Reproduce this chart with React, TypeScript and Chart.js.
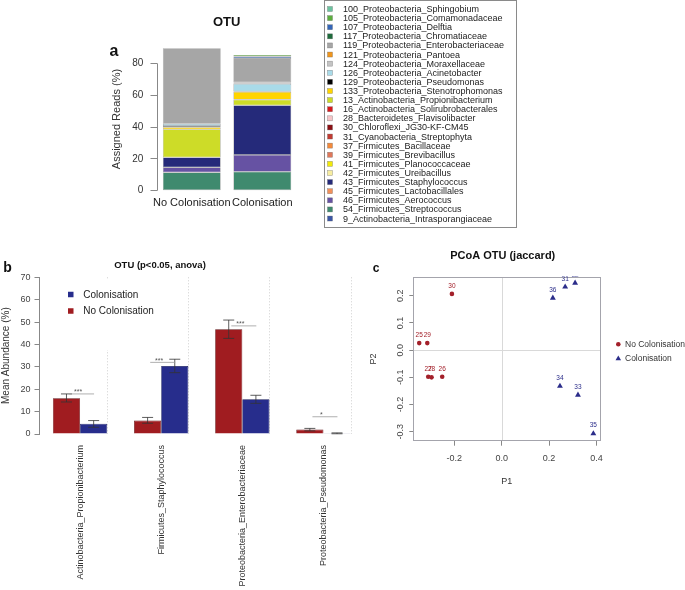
import React, { useEffect, useRef } from 'react';
import { Chart, registerables } from 'chart.js';

Chart.register(...registerables);

const FONT = "'Liberation Sans', Arial, Helvetica, sans-serif";

// ---------- Panel a: stacked OTU composition ----------
const otuGroups = ['No Colonisation', 'Colonisation'];
const otuNames = [
  '100_Proteobacteria_Sphingobium',
  '105_Proteobacteria_Comamonadaceae',
  '107_Proteobacteria_Delftia',
  '117_Proteobacteria_Chromatiaceae',
  '119_Proteobacteria_Enterobacteriaceae',
  '121_Proteobacteria_Pantoea',
  '124_Proteobacteria_Moraxellaceae',
  '126_Proteobacteria_Acinetobacter',
  '129_Proteobacteria_Pseudomonas',
  '133_Proteobacteria_Stenotrophomonas',
  '13_Actinobacteria_Propionibacterium',
  '16_Actinobacteria_Solirubrobacterales',
  '28_Bacteroidetes_Flavisolibacter',
  '30_Chloroflexi_JG30-KF-CM45',
  '31_Cyanobacteria_Streptophyta',
  '37_Firmicutes_Bacillaceae',
  '39_Firmicutes_Brevibacillus',
  '41_Firmicutes_Planococcaceae',
  '42_Firmicutes_Ureibacillus',
  '43_Firmicutes_Staphylococcus',
  '45_Firmicutes_Lactobacillales',
  '46_Firmicutes_Aerococcus',
  '54_Firmicutes_Streptococcus',
  '9_Actinobacteria_Intrasporangiaceae',
];
const otuColors = [
  '#6cc3a0', '#5cae3e', '#3466b8', '#1e6b3c', '#a6a6a6', '#f0961e',
  '#c4c4c4', '#a9dbe9', '#000000', '#ffd400', '#cddc28', '#d7191c',
  '#f6c5c8', '#8b0f14', '#c23b32', '#f48a3c', '#e0785a', '#f2ea0a',
  '#f7eda0', '#252a7a', '#f2905a', '#6652a3', '#3f8a6e', '#3b56a6',
];
const otuNoColonisation = [
  0, 0, 0, 0, 47.5, 0, 0, 1.3, 0.8, 1.3, 17.7, 0,
  0, 0, 0, 0, 0, 0, 0, 6.2, 0, 3.2, 11.5, 0,
];
const otuColonisation = [
  0, 1.0, 1.0, 0, 15.3, 0, 0.9, 4.8, 0.3, 4.8, 3.6, 0,
  0, 0, 0, 0, 0, 0, 0, 31.1, 0, 10.6, 11.9, 0,
];
const otuYTicks = [0, 20, 40, 60, 80];

// ---------- Panel b: ANOVA mean abundance ----------
const anovaTaxa = [
  'Actinobacteria_Propionibacterium',
  'Firmicutes_Staphylococcus',
  'Proteobacteria_Enterobacteriaceae',
  'Proteobacteria_Pseudomonas',
];
const noColMean = [16.0, 6.0, 46.8, 2.0];
const noColLow = [14.3, 4.8, 42.7, 1.4];
const noColHigh = [17.9, 7.4, 50.9, 2.5];
const colMean = [4.6, 30.4, 15.5, 0.3];
const colLow = [3.0, 27.4, 13.7, 0.1];
const colHigh = [6.0, 33.4, 17.3, 0.5];
const sigMarks = ['***', '***', '***', '*'];
const sigHeights = [17.9, 32.0, 48.3, 7.7];
const anovaYTicks = [0, 10, 20, 30, 40, 50, 60, 70];

// ---------- Panel c: PCoA ----------
const noColIds = ['30', '25', '29', '27', '28', '26'];
const noColP1 = [-0.21, -0.348, -0.314, -0.31, -0.296, -0.251];
const noColP2 = [0.207, 0.026, 0.026, -0.098, -0.1, -0.098];
const colIds = ['36', '31', '32', '34', '33', '35'];
const colP1 = [0.216, 0.268, 0.31, 0.246, 0.322, 0.387];
const colP2 = [0.192, 0.233, 0.247, -0.132, -0.165, -0.307];
const pcoaXTicks = [-0.2, 0.0, 0.2, 0.4];
const pcoaYTicks = [-0.3, -0.2, -0.1, 0.0, 0.1, 0.2];

const RED_B = '#a01c20';
const BLUE_B = '#272d8c';
const RED_C = '#a3202a';
const BLUE_C = '#2b2d8a';

function txt(ctx: CanvasRenderingContext2D, s: string, x: number, y: number, font: string, color: string, align: CanvasTextAlign = 'center') {
  ctx.save();
  ctx.font = font;
  ctx.fillStyle = color;
  ctx.textAlign = align;
  ctx.textBaseline = 'middle';
  ctx.fillText(s, x, y);
  ctx.restore();
}

const panelAPlugin = {
  id: 'panelA',
  afterDraw(chart: any) {
    const { ctx, chartArea, scales } = chart;
    const y = scales.y;
    ctx.save();
    ctx.strokeStyle = '#888';
    ctx.lineWidth = 1;
    const ax = Math.round(chartArea.left) + 0.5;
    ctx.beginPath();
    ctx.moveTo(ax, y.getPixelForValue(otuYTicks[0]));
    ctx.lineTo(ax, y.getPixelForValue(otuYTicks[otuYTicks.length - 1]));
    ctx.stroke();
    ctx.restore();

    txt(ctx, 'OTU', 226.7, 22.7, `bold 13px ${FONT}`, '#111');
    txt(ctx, 'a', 114, 52, `bold 16px ${FONT}`, '#111');

    // legend box
    ctx.save();
    ctx.strokeStyle = '#8a8a8a';
    ctx.lineWidth = 1;
    ctx.strokeRect(324.5, 0.5, 192, 227);
    otuNames.forEach((name, i) => {
      const cy = 9 + i * 9.11;
      ctx.fillStyle = otuColors[i];
      ctx.fillRect(327.5, cy - 2.5, 5, 5);
      ctx.strokeStyle = 'rgba(90,90,90,0.6)';
      ctx.lineWidth = 0.5;
      ctx.strokeRect(327.5, cy - 2.5, 5, 5);
      txt(ctx, name, 343, cy + 0.5, `9px ${FONT}`, '#222', 'left');
    });
    ctx.restore();
  },
};

const panelBPlugin = {
  id: 'panelB',
  beforeDatasetsDraw(chart: any) {
    const { ctx, chartArea } = chart;
    const meta = chart.getDatasetMeta(1);
    ctx.save();
    ctx.strokeStyle = '#cfcfcf';
    ctx.lineWidth = 1;
    ctx.setLineDash([1, 2]);
    meta.data.forEach((el: any) => {
      const x = Math.round(el.x + el.width / 2) + 0.5;
      ctx.beginPath();
      ctx.moveTo(x, chartArea.top);
      ctx.lineTo(x, chartArea.bottom);
      ctx.stroke();
    });
    ctx.restore();
  },
  afterDatasetsDraw(chart: any) {
    const { ctx, scales } = chart;
    const y = scales.y;
    const x = scales.x;
    // error bars
    ctx.save();
    ctx.strokeStyle = '#333';
    ctx.lineWidth = 0.8;
    chart.data.datasets.forEach((ds: any, d: number) => {
      const meta = chart.getDatasetMeta(d);
      meta.data.forEach((el: any, i: number) => {
        const lo = y.getPixelForValue(ds.errLow[i]);
        const hi = y.getPixelForValue(ds.errHigh[i]);
        ctx.beginPath();
        ctx.moveTo(el.x, lo);
        ctx.lineTo(el.x, hi);
        ctx.moveTo(el.x - 5.5, lo);
        ctx.lineTo(el.x + 5.5, lo);
        ctx.moveTo(el.x - 5.5, hi);
        ctx.lineTo(el.x + 5.5, hi);
        ctx.stroke();
      });
    });
    ctx.restore();
    // significance marks
    ctx.save();
    ctx.strokeStyle = '#9a9a9a';
    ctx.lineWidth = 0.8;
    sigMarks.forEach((m, i) => {
      const cx = x.getPixelForValue(i);
      const ly = y.getPixelForValue(sigHeights[i]);
      ctx.beginPath();
      ctx.moveTo(cx - 11, ly);
      ctx.lineTo(cx + 14, ly);
      ctx.stroke();
      txt(ctx, m, cx - 2, ly - 1.5, `7px ${FONT}`, '#555');
    });
    ctx.restore();
  },
  afterDraw(chart: any) {
    const { ctx } = chart;
    // legend
    ctx.save();
    ctx.fillStyle = '#ffffff';
    ctx.fillRect(55, 30, 105, 70);
    const entries = chart.data.datasets.slice().reverse();
    entries.forEach((ds: any, i: number) => {
      const cy = 44.5 + i * 16.5;
      ctx.fillStyle = ds.backgroundColor;
      ctx.fillRect(68, cy - 2.75, 5.5, 5.5);
      txt(ctx, ds.label, 83.3, cy + 0.5, `10px ${FONT}`, '#222', 'left');
    });
    ctx.restore();
    txt(ctx, 'OTU (p<0.05, anova)', 160, 15, `bold 9.5px ${FONT}`, '#111');
    txt(ctx, 'b', 7.5, 18, `bold 14px ${FONT}`, '#111');
  },
};

function drawTriangle(ctx: CanvasRenderingContext2D, x: number, y: number, r: number) {
  ctx.beginPath();
  ctx.moveTo(x, y - r);
  ctx.lineTo(x + r * 0.866, y + r / 2);
  ctx.lineTo(x - r * 0.866, y + r / 2);
  ctx.closePath();
  ctx.fill();
}

const panelCPlugin = {
  id: 'panelC',
  beforeDatasetsDraw(chart: any) {
    const { ctx, chartArea, scales } = chart;
    ctx.save();
    ctx.strokeStyle = '#d9d9d9';
    ctx.lineWidth = 1;
    const x0 = Math.round(scales.x.getPixelForValue(0)) + 0.5;
    const y0 = Math.round(scales.y.getPixelForValue(0)) + 0.5;
    ctx.beginPath();
    ctx.moveTo(x0, chartArea.top);
    ctx.lineTo(x0, chartArea.bottom);
    ctx.moveTo(chartArea.left, y0);
    ctx.lineTo(chartArea.right, y0);
    ctx.stroke();
    ctx.strokeStyle = '#a4a4ac';
    ctx.strokeRect(Math.round(chartArea.left) + 0.5, Math.round(chartArea.top) + 0.5,
      Math.round(chartArea.right - chartArea.left), Math.round(chartArea.bottom - chartArea.top));
    ctx.restore();
  },
  afterDatasetsDraw(chart: any) {
    const { ctx, chartArea } = chart;
    ctx.save();
    ctx.beginPath();
    ctx.rect(chartArea.left, chartArea.top - 1, chartArea.right - chartArea.left, chartArea.bottom - chartArea.top + 1);
    ctx.clip();
    chart.data.datasets.forEach((ds: any, d: number) => {
      const meta = chart.getDatasetMeta(d);
      meta.data.forEach((el: any, i: number) => {
        txt(ctx, ds.ids[i], el.x, el.y - 8, `6.5px ${FONT}`, ds.backgroundColor);
      });
    });
    ctx.restore();
  },
  afterDraw(chart: any) {
    const { ctx } = chart;
    txt(ctx, 'PCoA OTU (jaccard)', 162.7, 16, `bold 11px ${FONT}`, '#111');
    txt(ctx, 'c', 36, 29, `bold 12px ${FONT}`, '#111');
    const ds = chart.data.datasets;
    ctx.save();
    ctx.fillStyle = ds[0].backgroundColor;
    ctx.beginPath();
    ctx.arc(278.3, 104.3, 2.3, 0, Math.PI * 2);
    ctx.fill();
    ctx.fillStyle = ds[1].backgroundColor;
    drawTriangle(ctx, 278.3, 118.6, 3.2);
    ctx.restore();
    txt(ctx, ds[0].label, 285, 104.6, `8.5px ${FONT}`, '#333', 'left');
    txt(ctx, ds[1].label, 285, 118.6, `8.5px ${FONT}`, '#333', 'left');
  },
};

export default function App() {
  const aRef = useRef<HTMLCanvasElement>(null);
  const bRef = useRef<HTMLCanvasElement>(null);
  const cRef = useRef<HTMLCanvasElement>(null);

  useEffect(() => {
    Chart.defaults.font.family = FONT;
    const charts: Chart[] = [];

    // Panel a
    const datasetsA = otuNames
      .map((name, i) => ({
        label: name,
        data: [otuNoColonisation[i] || null, otuColonisation[i] || null],
        backgroundColor: otuColors[i],
        borderColor: 'rgba(70,70,70,0.55)',
        borderWidth: 0.6,
        borderSkipped: false,
        barPercentage: 0.82,
        categoryPercentage: 1,
      }))
      .reverse();
    charts.push(
      new Chart(aRef.current as HTMLCanvasElement, {
        type: 'bar',
        data: { labels: otuGroups, datasets: datasetsA as any },
        plugins: [panelAPlugin],
        options: {
          animation: false,
          responsive: false,
          events: [],
          layout: { padding: { left: 110.7, right: 227.4, top: 47.4, bottom: 10 } },
          plugins: { legend: { display: false }, tooltip: { enabled: false }, title: { display: false } },
          scales: {
            x: {
              stacked: true,
              grid: { display: false, drawTicks: false },
              border: { display: false },
              ticks: { font: { size: 11 }, color: '#222', padding: 5.4, minRotation: 0, maxRotation: 0, autoSkip: false },
              afterFit: (s: any) => { s.height = 39.3; },
            },
            y: {
              stacked: true,
              min: 0,
              max: 90,
              grid: { display: true, drawOnChartArea: false, drawTicks: true, tickLength: 6, color: '#888' },
              border: { display: false },
              ticks: { font: { size: 10 }, color: '#333', padding: 7.2 },
              afterBuildTicks: (s: any) => { s.ticks = otuYTicks.map((v) => ({ value: v })); },
              afterFit: (s: any) => { s.width = 45.8; },
              title: { display: true, text: 'Assigned Reads (%)', font: { size: 11 }, color: '#333', padding: 0 },
            },
          },
        } as any,
      })
    );

    // Panel b
    charts.push(
      new Chart(bRef.current as HTMLCanvasElement, {
        type: 'bar',
        data: {
          labels: anovaTaxa,
          datasets: [
            {
              label: 'No Colonisation', data: noColMean, backgroundColor: RED_B, borderColor: '#5e0f12',
              borderWidth: 0.7, barPercentage: 1, categoryPercentage: 0.67, errLow: noColLow, errHigh: noColHigh,
            },
            {
              label: 'Colonisation', data: colMean, backgroundColor: BLUE_B, borderColor: '#14185a',
              borderWidth: 0.7, barPercentage: 1, categoryPercentage: 0.67, errLow: colLow, errHigh: colHigh,
            },
          ] as any,
        },
        plugins: [panelBPlugin],
        options: {
          animation: false,
          responsive: false,
          events: [],
          layout: { padding: { left: 0, right: 6, top: 27.3, bottom: 0 } },
          plugins: { legend: { display: false }, tooltip: { enabled: false }, title: { display: false } },
          scales: {
            x: {
              grid: { display: false, drawTicks: false },
              border: { display: false },
              ticks: { font: { size: 9 }, color: '#333', padding: 11, minRotation: 90, maxRotation: 90, autoSkip: false },
              afterFit: (s: any) => { s.height = 156; },
            },
            y: {
              min: 0,
              max: 70,
              grid: { display: true, drawOnChartArea: false, drawTicks: true, tickLength: 5, color: '#888' },
              border: { display: true, color: '#888' },
              ticks: { font: { size: 9 }, color: '#444', padding: 4 },
              afterBuildTicks: (s: any) => { s.ticks = anovaYTicks.map((v) => ({ value: v })); },
              afterFit: (s: any) => { s.width = 39.5; },
              title: { display: true, text: 'Mean Abundance (%)', font: { size: 10 }, color: '#333', padding: 0 },
            },
          },
        } as any,
      })
    );

    // Panel c
    charts.push(
      new Chart(cRef.current as HTMLCanvasElement, {
        type: 'scatter',
        data: {
          datasets: [
            {
              label: 'No Colonisation',
              data: noColP1.map((v, i) => ({ x: v, y: noColP2[i] })),
              pointStyle: 'circle', pointRadius: 2.3, pointBorderWidth: 0,
              backgroundColor: RED_C, borderColor: RED_C, ids: noColIds,
            },
            {
              label: 'Colonisation',
              data: colP1.map((v, i) => ({ x: v, y: colP2[i] })),
              pointStyle: 'triangle', pointRadius: 3.4, pointBorderWidth: 0,
              backgroundColor: BLUE_C, borderColor: BLUE_C, ids: colIds,
            },
          ] as any,
        },
        plugins: [panelCPlugin],
        options: {
          animation: false,
          responsive: false,
          events: [],
          layout: { padding: { left: 28, right: 85, top: 37.3, bottom: 52.9 } },
          plugins: { legend: { display: false }, tooltip: { enabled: false }, title: { display: false } },
          scales: {
            x: {
              type: 'linear',
              min: -0.373,
              max: 0.415,
              grid: { display: true, drawOnChartArea: false, drawTicks: true, tickLength: 5, color: '#888' },
              border: { display: false },
              ticks: { font: { size: 9 }, color: '#444', padding: 7.9, callback: (v: any) => Number(v).toFixed(1) },
              afterBuildTicks: (s: any) => { s.ticks = pcoaXTicks.map((v) => ({ value: v })); },
              afterFit: (s: any) => { s.height = 46.4; },
              title: { display: true, text: 'P1', font: { size: 9 }, color: '#333', padding: 0 },
            },
            y: {
              type: 'linear',
              min: -0.333,
              max: 0.268,
              grid: { display: true, drawOnChartArea: false, drawTicks: true, tickLength: 4, color: '#888' },
              border: { display: false },
              ticks: {
                font: { size: 9 }, color: '#444', padding: 1.5, minRotation: 90, maxRotation: 90,
                crossAlign: 'center', callback: (v: any) => Number(v).toFixed(1),
              },
              afterBuildTicks: (s: any) => { s.ticks = pcoaYTicks.map((v) => ({ value: v })); },
              afterFit: (s: any) => { s.width = 45.3; },
              title: { display: true, text: 'P2', font: { size: 9 }, color: '#333', padding: 0 },
            },
          },
        } as any,
      })
    );

    return () => charts.forEach((c) => c.destroy());
  }, []);

  return (
    <div style={{ position: 'absolute', left: 0, top: 0, width: 685, height: 590, background: '#fff', overflow: 'hidden' }}>
      <canvas ref={aRef} width={525} height={240} style={{ position: 'absolute', left: 0, top: 0, width: 525, height: 240 }} />
      <canvas ref={bRef} width={370} height={340} style={{ position: 'absolute', left: 0, top: 250, width: 370, height: 340 }} />
      <canvas ref={cRef} width={345} height={300} style={{ position: 'absolute', left: 340, top: 240, width: 345, height: 300 }} />
    </div>
  );
}
